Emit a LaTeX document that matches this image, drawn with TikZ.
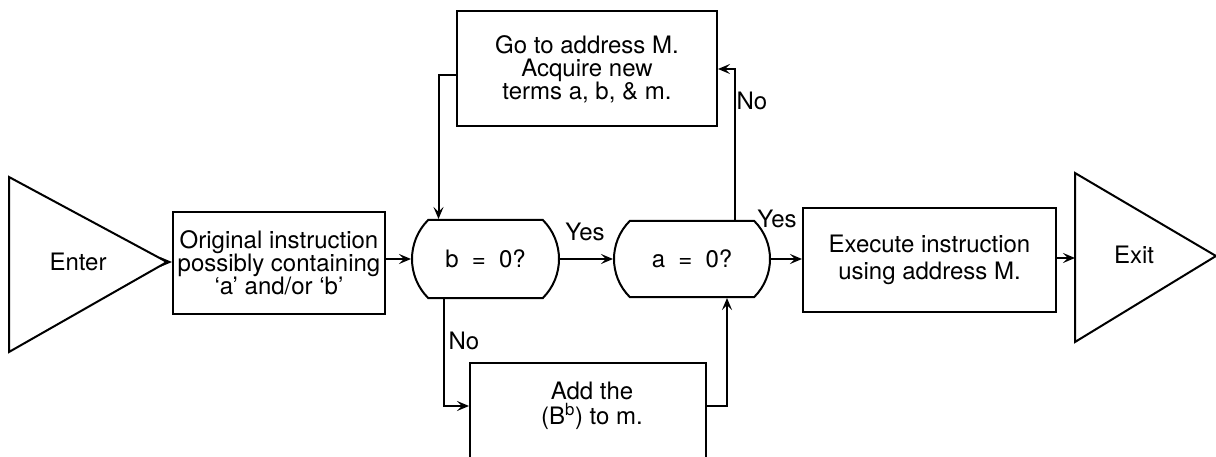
\documentclass[tikz,border=0pt]{standalone}
\usepackage{fontspec}
\setmainfont{TeX Gyre Heros}
\usetikzlibrary{arrows.meta,shapes.misc}
\begin{document}
\begin{tikzpicture}[x=1pt,y=-1pt,line width=2pt,line join=miter,
  box/.style={draw,rectangle,inner sep=0pt,font=\fontsize{24}{23}\selectfont,align=center},
  dec/.style={draw,rounded rectangle,rounded rectangle arc length=90,inner sep=0pt,font=\fontsize{24}{22}\selectfont},
  lbl/.style={inner sep=0pt,font=\fontsize{24}{22}\selectfont},
  arr/.style={-{Stealth[length=12pt,width=10pt,inset=5pt]}}]
\useasboundingbox (0,0) rectangle (1216,457);
\clip (0,0) rectangle (1216,457);
% Enter triangle
\coordinate (enterTip) at (167,262);
\draw (9,177) -- (enterTip) -- (9,352) -- cycle;
\node[lbl] (enter) at (78,262) {Enter};
% Exit triangle
\coordinate (exitBase) at (1075,258);
\draw (1075,173) -- (1216,256) -- (1075,342) -- cycle;
\node[lbl] (exit) at (1134,255) {Exit};
% boxes
\node[box,minimum width=212pt,minimum height=101pt] (orig) at (279,263)
  {Original instruction\\possibly containing\\`a' and/or `b'};
\node[dec,minimum width=147pt,minimum height=78pt] (b0) at (485.5,259)
  {b\hspace{0.55em}=\hspace{0.55em}0?};
\node[dec,minimum width=156pt,minimum height=76pt] (a0) at (692,259)
  {a\hspace{0.55em}=\hspace{0.55em}0?};
\node[box,minimum width=253pt,minimum height=104pt,font=\fontsize{24}{27}\selectfont] (exec) at (929.5,260)
  {Execute instruction\\using address M.};
\node[box,minimum width=260pt,minimum height=115pt] (top) at (587,69)
  {Go to address M.\\Acquire new\\terms a, b, \& m.};
\node[box,minimum width=236pt,minimum height=112pt] (bot) at (588,419) {};
\node[lbl,align=center,font=\fontsize{24}{25}\selectfont] (botText) at (592,406) {Add the\\(B$^{\mathrm{b}}$) to m.};
% connectors
\draw[arr] (enterTip) -- (orig.west |- enterTip);
\draw[arr] (orig.east |- b0.west) -- (b0.west);
\draw[arr] (b0.east) -- (a0.west);
\draw[arr] (a0.east) -- (exec.west |- a0.east);
\draw[arr] (exec.east |- exitBase) -- (exitBase);
\draw[arr] ([yshift=-6pt]top.west) -| ([xshift=-47pt]b0.north);
\draw[arr] ([xshift=43pt]a0.north) |- (top.east);
\draw[arr] ([xshift=-42pt]b0.south) |- ([yshift=13pt]bot.west);
\draw[arr] ([yshift=13pt]bot.east) -| ([xshift=35pt]a0.south);
% labels
\node[lbl] (yes1) at (585,232) {Yes};
\node[lbl] (yes2) at (777,219) {Yes};
\node[lbl] (no1) at (752,101) {No};
\node[lbl] (no2) at (464,341) {No};
\end{tikzpicture}
\end{document}
